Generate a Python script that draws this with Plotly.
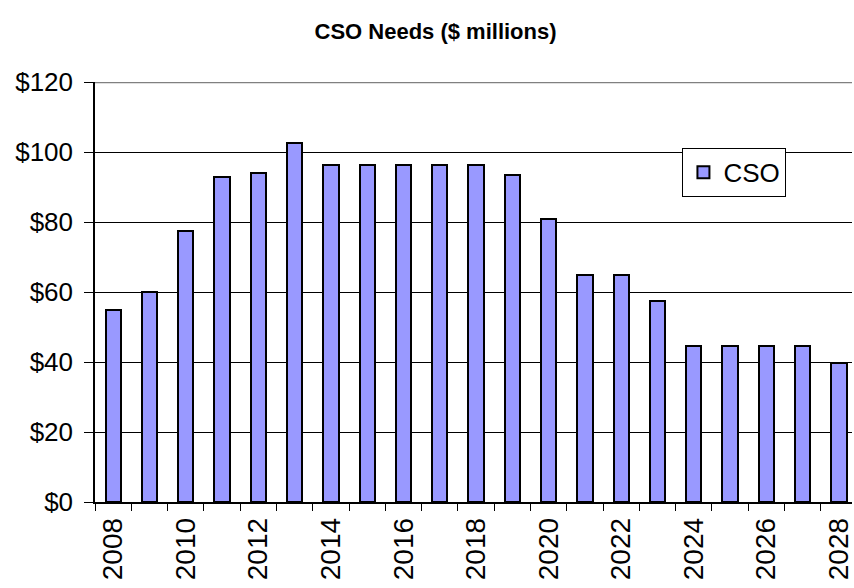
import plotly.graph_objects as go

years = list(range(2008, 2029))
cso = [55, 60, 77.4, 93, 94, 102.5, 96.4, 96.4, 96.4, 96.4, 96.4, 93.4, 81, 65, 65, 57.5, 44.5, 44.5, 44.5, 44.5, 39.6]
label_years = list(range(2008, 2029, 2))
y_ticks = [0, 20, 40, 60, 80, 100, 120]

FONT = "Liberation Sans, Arial, sans-serif"

fig = go.Figure()
fig.add_trace(go.Bar(
    x=years, y=cso, name="CSO", width=0.42,
    marker=dict(color="#9999FF", line=dict(color="black", width=2)),
))

fig.update_layout(
    width=854, height=588,
    margin=dict(l=95, r=0, t=82, b=86),
    paper_bgcolor="white", plot_bgcolor="white",
    font=dict(family=FONT, color="black"),
    title=dict(text="<b>CSO Needs ($ millions)</b>", x=0.51, xanchor="center",
               y=0.946, yanchor="middle", font=dict(size=22, family=FONT, color="black")),
    showlegend=True,
    legend=dict(x=0.776, y=0.843, xanchor="left", yanchor="top",
                bordercolor="black", borderwidth=1, bgcolor="white",
                font=dict(size=26, family=FONT, color="black"),
                tracegroupgap=0, itemwidth=30),
    bargap=0,
)

fig.update_xaxes(
    range=[2007.5, 2028.36], tickmode="array", tickvals=label_years,
    ticktext=[str(y) for y in label_years], tickangle=-90,
    ticks="", ticklabelstandoff=3, ticklabeloverflow="allow",
    tickfont=dict(size=28, family=FONT, color="black"),
    showline=True, linecolor="black", linewidth=1.5, showgrid=False, zeroline=False,
    minor=dict(ticks="outside", ticklen=7, tickcolor="black", tickwidth=1,
               tick0=2007.5, dtick=1, showgrid=False),
)

fig.update_yaxes(
    range=[0, 120], tickmode="array", tickvals=y_ticks,
    ticktext=["$" + str(v) for v in y_ticks],
    ticks="outside", ticklen=9, tickcolor="black", tickwidth=1,
    ticklabelstandoff=6,
    tickfont=dict(size=26, family=FONT, color="black"),
    showline=True, linecolor="black", linewidth=1.5,
    showgrid=True, gridcolor="black", gridwidth=1, zeroline=False,
)

fig.add_shape(type="line", xref="paper", yref="y", x0=0, x1=1, y0=120, y1=120,
              line=dict(color="#808080", width=2.5))

fig.write_html(
    "out.html",
    config={"displayModeBar": False},
    post_script="document.body.style.margin='0';document.body.style.overflow='hidden';",
)
